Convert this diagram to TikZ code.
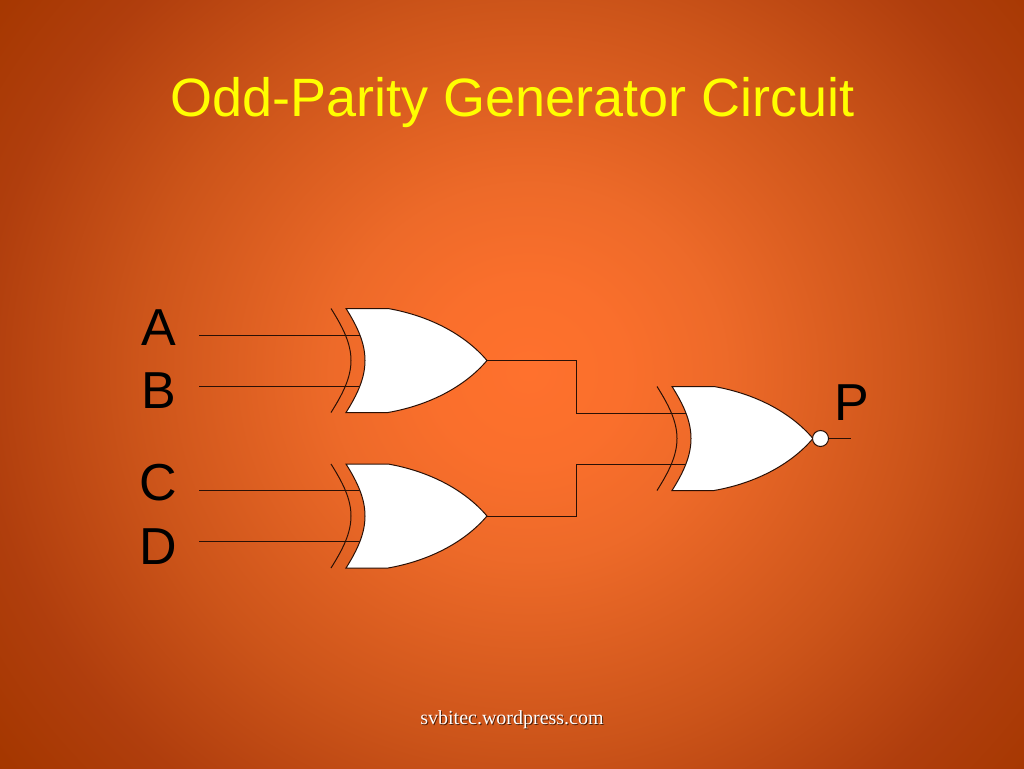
\documentclass[tikz,border=0pt]{standalone}
\usepackage{fontspec}
\setmainfont{Liberation Sans}
\newfontfamily\footfont{Liberation Serif}
\usetikzlibrary{calc}
\pgfdeclarelayer{bg}
\pgfdeclarelayer{wires}
\pgfsetlayers{bg,wires,main}
\definecolor{ctitle}{HTML}{FFFF00}
\definecolor{cline}{HTML}{2A1005}
\definecolor{cshadow}{HTML}{4A1C06}
\pgfdeclareradialshading{slidebg}{\pgfpoint{0bp}{0bp}}{%
 rgb(0bp)=(1.0,0.443,0.176);
 rgb(3.4bp)=(0.98,0.435,0.172);
 rgb(6.9bp)=(0.93,0.415,0.16);
 rgb(13.75bp)=(0.80,0.33,0.10);
 rgb(19.2bp)=(0.69,0.243,0.051);
 rgb(23.2bp)=(0.647,0.216,0.0);
 rgb(25bp)=(0.63,0.20,0.0);
 rgb(50bp)=(0.63,0.20,0.0)}
\tikzset{
  x=1pt,y=-1pt,
  wire/.style={draw=cline,line width=1pt},
  gatebody/.style={draw=cline,line width=1pt,fill=white},
  biglabel/.style={font=\fontsize{52}{52}\selectfont,text=black,anchor=base,inner sep=0pt},
  xorgate/.pic={
    \path[gatebody] (0,-52) .. controls (12,-33) and (19,-17) .. (19,0)
       .. controls (19,17) and (12,33) .. (0,52) -- (42,52)
       .. controls (82,45) and (118,27) .. (141,0)
       .. controls (118,-27) and (82,-45) .. (42,-52) -- cycle;
    \draw[wire] (-15,-52) .. controls (-3,-33) and (5,-17) .. (5,0)
       .. controls (5,17) and (-3,33) .. (-15,52);
    \coordinate (-in1) at (15,-25.5);
    \coordinate (-in2) at (15,25.5);
    \coordinate (-out) at (141,0);
  }
}
\begin{document}
\begin{tikzpicture}
\useasboundingbox (0,0) rectangle (1024,768);
\begin{pgfonlayer}{bg}
  \begin{scope}
    \clip (0,0) rectangle (1024,768);
    \shade[shading=slidebg] (528-715,372-680) rectangle (528+715,372+680);
  \end{scope}
\end{pgfonlayer}

\node[font=\fontsize{54}{54}\selectfont,text=ctitle,anchor=base,inner sep=0pt] (title) at (512.5,116) {Odd-Parity Generator Circuit};

\node[biglabel] (A) at (158.5,345) {A};
\node[biglabel] (B) at (159,408) {B};
\node[biglabel] (C) at (158,500) {C};
\node[biglabel] (D) at (158,564) {D};
\node[biglabel] (P) at (851.5,420) {P};

\coordinate (ia) at (199,335);
\coordinate (ib) at (199,386);
\coordinate (ic) at (199,490.5);
\coordinate (id) at (199,541.5);

\pic (g1) at (346,360.5) {xorgate};
\pic (g2) at (346,516) {xorgate};
\pic (g3) at (672,438.5) {xorgate};

\node[circle,draw=cline,line width=1pt,fill=white,minimum size=16pt,inner sep=0pt] (bub) at (820.5,438.5) {};
\coordinate (pout) at (851,438.5);

\begin{pgfonlayer}{wires}
  \draw[wire] (ia) -- (g1-in1);
  \draw[wire] (ib) -- (g1-in2);
  \draw[wire] (ic) -- (g2-in1);
  \draw[wire] (id) -- (g2-in2);
  \draw[wire] (g1-out) -- ++(89,0) |- (g3-in1);
  \draw[wire] (g2-out) -- ++(89,0) |- (g3-in2);
  \draw[wire] (bub) -- (pout);
\end{pgfonlayer}

\node[font=\footfont\fontsize{20}{20}\selectfont,text=cshadow,anchor=base,inner sep=0pt] (footshadow) at (513,725) {svbitec.wordpress.com};
\node[font=\footfont\fontsize{20}{20}\selectfont,text=white,anchor=base,inner sep=0pt] (foot) at (512,724) {svbitec.wordpress.com};
\end{tikzpicture}
\end{document}
